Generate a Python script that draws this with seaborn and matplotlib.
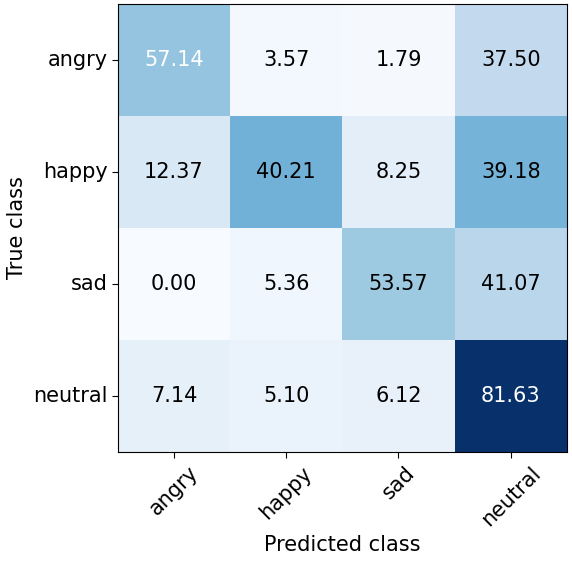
import numpy as np
import pandas as pd
import seaborn as sns
import matplotlib
matplotlib.use("Agg")
import matplotlib.pyplot as plt

classes = ["angry", "happy", "sad", "neutral"]
# raw counts per true class (rows) -> colour; row percentages -> annotation
counts_angry = [32, 2, 1, 21]
counts_happy = [12, 39, 8, 38]
counts_sad = [0, 3, 30, 23]
counts_neutral = [7, 5, 6, 80]

counts = pd.DataFrame([counts_angry, counts_happy, counts_sad, counts_neutral],
                      index=classes, columns=classes)
pct = counts.div(counts.sum(axis=1), axis=0) * 100

sns.set_style("white")
plt.rcParams["font.family"] = ["DejaVu Sans"]
plt.rcParams["text.color"] = "black"
plt.rcParams["axes.labelcolor"] = "black"
plt.rcParams["xtick.color"] = "black"
plt.rcParams["ytick.color"] = "black"

fig = plt.figure(figsize=(5.72, 5.61), dpi=100)
ax = fig.add_axes([0.206, 0.194, 0.785, 0.799])

sns.heatmap(counts, cmap="Blues", annot=pct.values, fmt=".2f", cbar=False,
            vmin=0, vmax=counts.values.max(), annot_kws={"size": 15}, ax=ax)

# white text on the dark cells
for t, v in zip(ax.texts, pct.values.flatten()):
    t.set_color("white" if v > 55 else "black")

for s in ax.spines.values():
    s.set_visible(True)
    s.set_color("black")
    s.set_linewidth(0.8)

ax.tick_params(axis="both", which="both", length=4, width=0.8,
               bottom=True, left=True, color="black", labelcolor="black",
               labelsize=15)
plt.setp(ax.get_xticklabels(), rotation=45, ha="center")
plt.setp(ax.get_yticklabels(), rotation=0)

ax.set_xlabel("Predicted class", fontsize=15, color="black")
ax.set_ylabel("True class", fontsize=15, color="black")

fig.savefig("out.png", dpi=100)
